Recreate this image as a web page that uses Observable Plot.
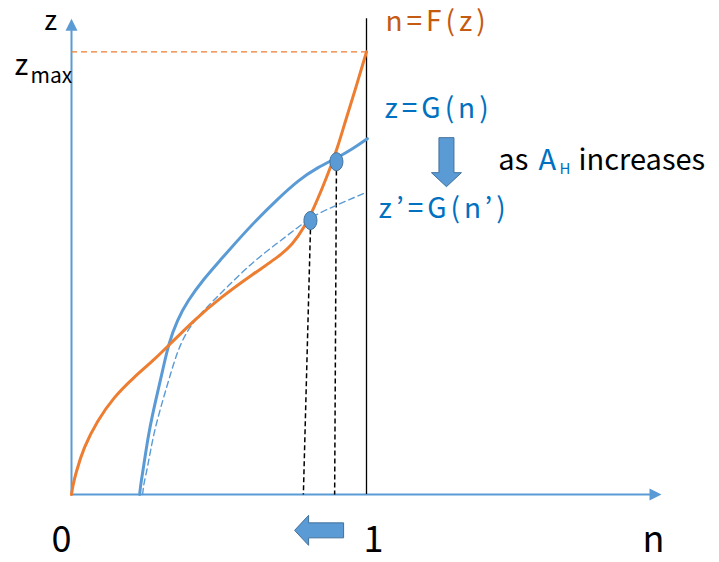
<!DOCTYPE html>
<html>
<head>
<meta charset="utf-8">
<script src="https://cdn.jsdelivr.net/npm/d3@7"></script>
<script src="https://cdn.jsdelivr.net/npm/@observablehq/plot@0.6"></script>
<style>
  body { margin: 0; background: #fff; }
</style>
</head>
<body>
<div id="chart"></div>
<script>
// ---- data (n, z) ----
const fN = [0, 0.004, 0.014, 0.041, 0.088, 0.142, 0.210, 0.278, 0.336, 0.414, 0.505, 0.617, 0.698, 0.750, 0.790, 0.820, 0.850, 0.878, 0.902, 0.929, 0.963, 1.0];
const fZ = [0, 0.018, 0.047, 0.106, 0.167, 0.219, 0.264, 0.303, 0.341, 0.393, 0.445, 0.499, 0.535, 0.565, 0.605, 0.645, 0.692, 0.739, 0.784, 0.845, 0.917, 1.0];

const gN = [0.231, 0.235, 0.244, 0.261, 0.285, 0.309, 0.329, 0.359, 0.393, 0.448, 0.505, 0.563, 0.625, 0.690, 0.770, 0.834, 0.902, 0.956, 1.003];
const gZ = [0, 0.025, 0.061, 0.138, 0.212, 0.280, 0.341, 0.395, 0.437, 0.487, 0.530, 0.574, 0.619, 0.662, 0.711, 0.739, 0.761, 0.782, 0.804];

const g2N = [0.241, 0.245, 0.258, 0.278, 0.309, 0.336, 0.363, 0.403, 0.461, 0.529, 0.617, 0.698, 0.766, 0.820, 0.902, 0.990];
const g2Z = [0, 0.025, 0.061, 0.138, 0.212, 0.273, 0.332, 0.383, 0.425, 0.470, 0.527, 0.568, 0.603, 0.630, 0.655, 0.680];

const zMax = 1;
const nMax = 1;
const eqN = [0.898, 0.810];      // equilibrium points
const eqZ = [0.752, 0.619];
const dropN = [0.892, 0.786];    // where the dashed drop lines meet the n axis

const axisTopZ = 1.075;
const axisEndN = 2.0;

const tickLabels = ["0", "1", "n"];
const tickN = [-0.034, 1.024, 1.973];

const curveLabels = ["n=F(z)", "z=G(n)", "z\u2019=G(n\u2019)"];
const curveLabelN = [1.064, 1.061, 1.041];
const curveLabelZ = [1.068, 0.872, 0.644];

const ORANGE = "#ed7d31", ORANGE_TXT = "#c55a11", BLUE = "#5b9bd5", BLUE_TXT = "#0070c0";

const toRows = (ns, zs) => ns.map((n, i) => ({n, z: zs[i]}));
const F = toRows(fN, fZ), G = toRows(gN, gZ), G2 = toRows(g2N, g2Z);
const eq = toRows(eqN, eqZ);
const drops = eqN.map((n, i) => ({n1: n, z1: eqZ[i] - 0.02, n2: dropN[i], z2: 0}));

// custom symbols
const arrowHead = {draw(c) { c.moveTo(0, 0); c.lineTo(6, 12); c.lineTo(-6, 12); c.closePath(); }};
const blockArrow = {draw(c) {
  c.moveTo(-7.5, -24); c.lineTo(7.5, -24); c.lineTo(7.5, 11); c.lineTo(15, 11);
  c.lineTo(0, 25); c.lineTo(-15, 11); c.lineTo(-7.5, 11); c.closePath();
}};
const ellipse = {draw(c) {
  const rx = 6.5, ry = 9, k = 0.5523;
  c.moveTo(rx, 0);
  c.bezierCurveTo(rx, ry * k, rx * k, ry, 0, ry);
  c.bezierCurveTo(-rx * k, ry, -rx, ry * k, -rx, 0);
  c.bezierCurveTo(-rx, -ry * k, -rx * k, -ry, 0, -ry);
  c.bezierCurveTo(rx * k, -ry, rx, -ry * k, rx, 0);
  c.closePath();
}};

const FONT = "'Noto Sans CJK JP', 'Noto Sans', sans-serif";

const chart = Plot.plot({
  width: 719, height: 562,
  marginLeft: 71, marginRight: 58, marginTop: 16, marginBottom: 68,
  x: {domain: [0, 2], axis: null},
  y: {domain: [0, 1.08], axis: null},
  style: {fontFamily: FONT, overflow: "visible", background: "#fff"},
  marks: [
    // axes
    Plot.ruleX([0], {y1: 0, y2: axisTopZ - 0.027, stroke: BLUE, strokeWidth: 2}),
    Plot.ruleY([0], {x1: 0, x2: axisEndN - 0.037, stroke: BLUE, strokeWidth: 2}),
    Plot.dot([{n: 0, z: axisTopZ}], {x: "n", y: "z", symbol: arrowHead, fill: BLUE, stroke: "none", r: 6}),
    Plot.dot([{n: axisEndN, z: 0}], {x: "n", y: "z", symbol: arrowHead, fill: BLUE, stroke: "none", r: 6, rotate: 90}),
    // n = 1 line and z_max
    Plot.ruleX([nMax], {y1: 0, y2: axisTopZ, stroke: "#000", strokeWidth: 1.3}),
    Plot.ruleY([zMax], {x1: 0, x2: nMax, stroke: ORANGE, strokeWidth: 1.3, strokeDasharray: "6,4"}),
    // drop lines
    Plot.link(drops, {x1: "n1", y1: "z1", x2: "n2", y2: "z2", stroke: "#000", strokeWidth: 1.5, strokeDasharray: "5,3"}),
    // curves
    Plot.line(G2, {x: "n", y: "z", curve: "basis", stroke: BLUE, strokeWidth: 1.4, strokeDasharray: "6,4"}),
    Plot.line(G, {x: "n", y: "z", curve: "basis", stroke: BLUE, strokeWidth: 3}),
    Plot.line(F, {x: "n", y: "z", curve: "basis", stroke: ORANGE, strokeWidth: 3}),
    // equilibrium markers
    Plot.dot(eq, {x: "n", y: "z", symbol: ellipse, r: 8, fill: BLUE, stroke: "#41719c", strokeWidth: 1}),
    // block arrows
    Plot.dot([{n: 1.271, z: 0.752}], {x: "n", y: "z", symbol: blockArrow, r: 20, fill: BLUE, stroke: "#41719c", strokeWidth: 1}),
    Plot.dot([{n: 0.841, z: -0.081}], {x: "n", y: "z", symbol: blockArrow, r: 20, fill: BLUE, stroke: "#41719c", strokeWidth: 1, rotate: 90}),
    // axis labels
    Plot.text(tickLabels, {x: (d, i) => tickN[i], y: -0.104, text: d => d, fontSize: 36, fill: "#000", fontFamily: FONT}),
    Plot.text(["z"], {x: -0.071, y: 1.07, text: d => d, fontSize: 27, fill: "#000", fontFamily: FONT}),
    Plot.text(["z"], {x: -0.17, y: 0.968, text: d => d, fontSize: 29, fill: "#000", fontFamily: FONT}),
    Plot.text(["max"], {x: -0.139, y: 0.945, text: d => d, fontSize: 21, textAnchor: "start", fill: "#000", fontFamily: FONT}),
    // curve labels
    Plot.text(curveLabels, {x: (d, i) => curveLabelN[i], y: (d, i) => curveLabelZ[i], text: d => d,
      fill: (d, i) => i === 0 ? ORANGE_TXT : BLUE_TXT, fontSize: 28, textAnchor: "start", fontFamily: FONT}),
    // "as A_H increases"
    Plot.text(["as"], {x: 1.447, y: 0.755, text: d => d, fontSize: 29, textAnchor: "start", fill: "#000", fontFamily: FONT}),
    Plot.text(["A"], {x: 1.583, y: 0.755, text: d => d, fontSize: 29, textAnchor: "start", fill: BLUE_TXT, fontFamily: FONT}),
    Plot.text(["H"], {x: 1.654, y: 0.734, text: d => d, fontSize: 15, textAnchor: "start", fill: BLUE_TXT, fontFamily: FONT}),
    Plot.text(["increases"], {x: 1.719, y: 0.755, text: d => d, fontSize: 29, textAnchor: "start", fill: "#000", fontFamily: FONT})
  ]
});
// widen the curve labels' letter spacing like the original
d3.select(chart).selectAll("text").each(function () {
  if (curveLabels.includes(this.textContent)) this.setAttribute("letter-spacing", "4");
});
document.getElementById("chart").appendChild(chart);
</script>
</body>
</html>
